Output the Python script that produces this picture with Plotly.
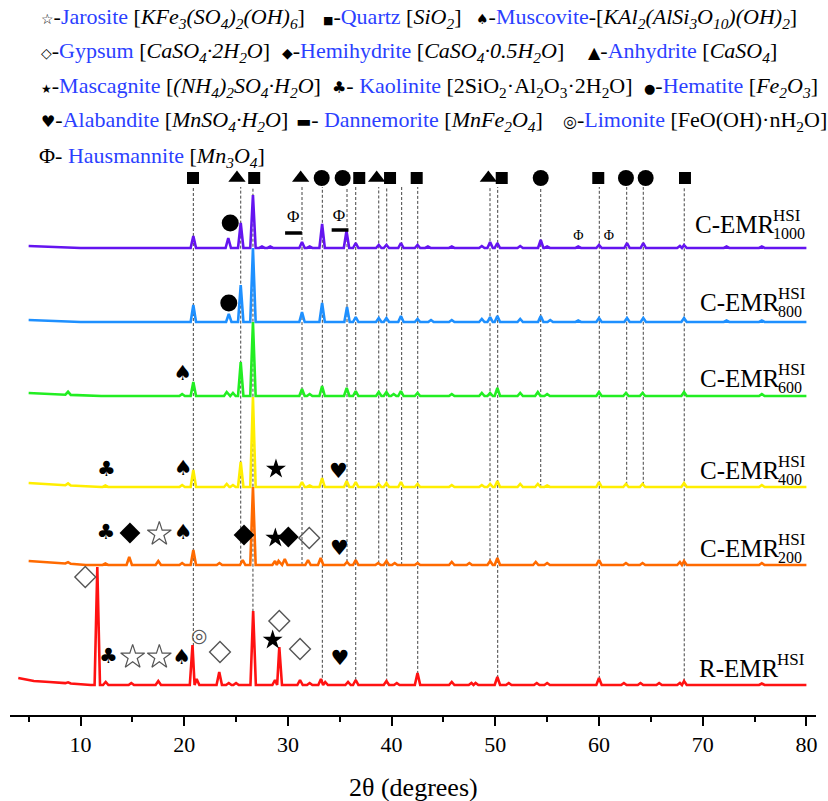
import numpy as np
import plotly.graph_objects as go

# ---------------- data ----------------
# peak positions (2-theta, degrees) and relative intensities (a.u.) per sample
pos_1000 = [20.88, 24.25, 25.45, 26.63, 27.5, 28.3, 31.36, 32.1, 33.3, 35.65, 36.54, 38.76, 39.5, 40.9, 42.5,
            43.5, 45.8, 48.7, 49.5, 50.2, 52.4, 54.38, 55.0, 58.0, 60.0, 62.7, 64.27, 67.8, 68.2, 72.3, 75.7]
int_1000 = [12, 10, 25, 53, 1.5, 1.5, 6, 1.5, 24, 17, 5, 3, 3, 5, 3,
            1.5, 1.5, 2, 6, 5, 2, 8, 1.5, 1.5, 3, 5, 5, 2, 3, 1.5, 1.5]

pos_800 = [20.88, 24.3, 25.45, 26.63, 31.36, 33.3, 35.7, 36.54, 38.76, 39.5, 40.9, 42.5, 43.8, 45.8,
           48.7, 49.5, 50.2, 52.4, 54.38, 55.3, 58.0, 60.0, 62.7, 64.27, 68.2, 72.3, 75.7]
int_800 = [17, 8, 37, 74, 10, 19, 15, 5, 4, 4, 6, 3, 2, 2,
           3, 5, 6, 3, 6, 2, 1.5, 4, 4, 4, 4, 1.5, 1.5]

pos_600 = [8.8, 19.8, 20.88, 24.1, 24.7, 25.45, 26.63, 31.36, 32.1, 33.3, 35.67, 36.54, 38.76, 39.5, 40.2,
           40.9, 42.5, 45.8, 48.7, 49.5, 50.2, 52.4, 54.1, 55.0, 60.0, 62.6, 64.2, 68.2, 75.7]
int_600 = [3, 2, 14, 4, 3, 34, 74, 7, 2, 10, 8, 5, 4, 4, 2,
           5, 3, 2, 3, 3, 8, 3, 4, 2, 4, 3, 3, 4, 2]

pos_400 = [8.8, 12.4, 19.8, 20.88, 24.1, 24.7, 25.45, 26.63, 31.36, 32.1, 33.3, 35.67, 36.54, 38.76, 39.5,
           40.9, 42.5, 45.8, 48.7, 49.5, 50.2, 52.4, 54.1, 55.0, 60.0, 62.6, 64.2, 68.2, 75.7]
int_400 = [2, 1.5, 2, 17, 3, 2, 25, 90, 5, 1.5, 9, 6, 5, 3, 4,
           5, 3, 2, 2, 3, 6, 3, 3, 1.5, 5, 3, 3, 4, 2]

pos_200 = [8.8, 12.4, 14.7, 17.5, 19.8, 20.88, 23.4, 25.64, 26.63, 28.76, 29.1, 29.7, 31.94, 33.16, 35.7,
           36.54, 38.7, 39.5, 40.3, 42.5, 45.8, 47.5, 49.5, 50.2, 53.9, 55.0, 60.0, 62.6, 64.2, 67.8, 68.2, 75.7]
int_200 = [1.5, 1.5, 8, 4, 2, 15, 2, 5, 78, 4, 4, 6, 5, 7, 3,
           5, 2, 4, 2, 2, 3, 2, 4, 7, 3, 2, 5, 2, 2, 3, 4, 2]

pos_raw = [8.8, 11.62, 12.43, 14.9, 17.5, 20.8, 21.2, 23.38, 24.3, 25.0, 26.65, 28.76, 29.17, 31.17, 32.1,
           33.19, 33.6, 35.8, 36.54, 39.5, 40.5, 42.5, 45.8, 47.7, 48.1, 50.2, 51.3, 54.0, 55.0, 60.0,
           62.4, 64.0, 65.8, 67.8, 68.2, 75.7]
int_raw = [1, 118, 3, 2, 4, 40, 6, 13, 2, 2, 74, 5, 38, 5, 2,
           6, 3, 3, 5, 4, 2, 12, 3, 2, 2, 8, 2, 2, 2, 7,
           2, 2, 2, 2, 4, 1.5]

# background (2-theta, a.u.) control points
bg_x_1000, bg_y_1000 = [5, 10, 80], [2, 0, 0]
bg_x_800, bg_y_800 = [5, 10, 80], [2, 0, 0]
bg_x_600, bg_y_600 = [5, 8, 12, 80], [3, 1.5, 0, 0]
bg_x_400, bg_y_400 = [5, 8, 12, 80], [4, 2, 0, 0]
bg_x_200, bg_y_200 = [5, 8, 10.5, 80], [4, 2, 0, 0]
bg_x_raw, bg_y_raw = [4, 5.5, 7, 9, 11, 80], [7, 4, 3, 1.5, 0, 0]

scan_start = [5, 5, 5, 5, 5, 4]
scan_end = 80

sample_names = ["C-EMR", "C-EMR", "C-EMR", "C-EMR", "C-EMR", "R-EMR"]
sample_sup = ["HSI"] * 6
sample_sub = ["1000", "800", "600", "400", "200", ""]

# reference phase lines (2-theta) and the pattern each one drops to
ref_lines = [20.88, 25.45, 26.63, 31.36, 33.32, 35.70, 36.54, 38.76, 39.53, 40.97, 42.52,
             49.49, 50.23, 54.38, 60.03, 62.67, 64.27, 68.22]
ref_line_to = [5, 4, 5, 4, 5, 4, 5, 4, 5, 4, 5, 4, 5, 3, 5, 3, 3, 5]

# phase markers on top row (2-theta)
top_quartz = [20.85, 26.75, 36.88, 39.85, 42.42, 50.62, 59.93, 68.29]
top_anhydrite = [25.09, 31.23, 38.56, 49.33]
top_hematite = [33.26, 35.28, 54.38, 62.60, 64.50]

# ---------------- layout helpers (pixel geometry) ----------------
W, H = 828, 801
AX_Y = 715              # pixel row of x axis
X_LEFT, X_RIGHT = 10, 816


def px2deg(px):
    return 10 + (px - 80.5) / 10.37


def py2y(py):
    return AX_Y - py


offsets = [py2y(248), py2y(322), py2y(396), py2y(487), py2y(565), py2y(685)]
colors = ["#6414F0", "#1E90FF", "#22EE22", "#FFEE00", "#FF6A00", "#FF1212"]

peaks = [(pos_1000, int_1000), (pos_800, int_800), (pos_600, int_600),
         (pos_400, int_400), (pos_200, int_200), (pos_raw, int_raw)]
bgs = [(bg_x_1000, bg_y_1000), (bg_x_800, bg_y_800), (bg_x_600, bg_y_600),
       (bg_x_400, bg_y_400), (bg_x_200, bg_y_200), (bg_x_raw, bg_y_raw)]


def build(pos, inten, bgx, bgy, x0, x1, hw=0.26):
    n = len(pos)
    segs = []
    for i, (p, h) in enumerate(zip(pos, inten)):
        lf, rf = p - hw, p + hw
        if i > 0:
            lf = max(lf, (pos[i - 1] + p) / 2)
        if i < n - 1:
            rf = min(rf, (p + pos[i + 1]) / 2)
        segs.append((lf, p, rf, h))
    pts = [(x0, 0.0), (x1, 0.0)]
    for bx in bgx:
        if x0 < bx < x1 and not any(s[0] <= bx <= s[2] for s in segs):
            pts.append((bx, 0.0))
    for lf, p, rf, h in segs:
        pts += [(lf, 0.0), (p, float(h)), (rf, 0.0)]
    pts.sort(key=lambda t: t[0])
    xs = np.array([t[0] for t in pts])
    ys = np.array([t[1] for t in pts]) + np.interp(xs, bgx, bgy)
    return xs, ys


fig = go.Figure()

curves = []
for k in range(6):
    xs, ys = build(peaks[k][0], peaks[k][1], bgs[k][0], bgs[k][1], scan_start[k], scan_end)
    curves.append((xs, ys + offsets[k]))

# dashed reference lines (drawn first, below patterns)
top_line = py2y(187)
lx, ly = [], []
for x, t in zip(ref_lines, ref_line_to):
    yb = float(np.interp(x, curves[t][0], curves[t][1]))
    lx += [x, x, None]
    ly += [yb, top_line, None]
fig.add_trace(go.Scatter(x=lx, y=ly, mode="lines", hoverinfo="skip",
                         line=dict(color="#444444", width=1, dash="3px,2px")))

for k in range(6):
    fig.add_trace(go.Scatter(x=curves[k][0], y=curves[k][1], mode="lines",
                             line=dict(color=colors[k], width=2.6), hoverinfo="skip"))

# top row markers
ytop = py2y(178)
fig.add_trace(go.Scatter(x=top_quartz, y=[ytop] * len(top_quartz), mode="markers",
                         marker=dict(symbol="square", size=12, color="black")))
fig.add_trace(go.Scatter(x=top_anhydrite, y=[ytop] * len(top_anhydrite), mode="markers",
                         marker=dict(symbol="triangle-up", size=15, color="black")))
fig.add_trace(go.Scatter(x=top_hematite, y=[ytop] * len(top_hematite), mode="markers",
                         marker=dict(symbol="circle", size=16, color="black")))

# markers at patterns (x in degrees, y in pixel rows)
circ = [(24.44, 223), (24.3, 303)]
star = [(28.85, 469), (28.79, 538), (28.53, 640)]
star_o = [(17.6, 534), (15.03, 657), (17.6, 657)]
dia = [(14.77, 533), (25.77, 535), (30.04, 537)]
dia_o = [(32.06, 538), (10.46, 577), (23.45, 652), (29.17, 621), (31.17, 649)]
bars = [(30.54, 233), (35.03, 230)]


def mk(lst, **m):
    fig.add_trace(go.Scatter(x=[a for a, b in lst], y=[py2y(b) for a, b in lst], mode="markers", marker=m))


mk(circ, symbol="circle", size=17, color="black")
mk(star, symbol="star", size=15, color="black")
mk(star_o, symbol="star-open", size=18, color="#555555", line=dict(width=1.2, color="#555555"))
mk(dia, symbol="diamond", size=16, color="black")
mk(dia_o, symbol="diamond-open", size=16, color="#555555", line=dict(width=1.4, color="#555555"))
mk(bars, symbol="line-ew", size=12, color="black", line=dict(width=3.5, color="black"))

spade = [(19.86, 375), (19.9, 470), (19.9, 534), (19.76, 659)]
club = [(12.5, 471), (12.46, 534), (12.68, 658)]
heart = [(34.86, 473), (34.96, 550), (35.02, 660)]
limon = [(21.46, 637)]
phi_big = [(30.52, 218), (34.93, 217)]
phi_small = [(58.0, 236), (60.96, 236)]


def tx(lst, s, size, color="black", family="DejaVu Sans"):
    fig.add_trace(go.Scatter(x=[a for a, b in lst], y=[py2y(b) for a, b in lst], mode="text",
                             text=[s] * len(lst), textposition="middle center",
                             textfont=dict(size=size, color=color, family=family)))


tx(spade, "♠", 21)
tx(club, "♣", 21)
tx(heart, "♥", 21)
tx(limon, "◎", 19, "#555555")
tx(phi_big, "Φ", 17, family="Liberation Serif")
tx(phi_small, "Φ", 14, family="Liberation Serif")

# ---------------- annotations ----------------
ann = []
SER = "Liberation Serif"
label_y = [224, 302, 378, 470, 548, 668]
label_x = [776, 781, 781, 781, 781, 780]
for k in range(6):
    ann.append(dict(x=px2deg(label_x[k]), y=py2y(label_y[k]), text=sample_names[k], xanchor="right",
                    yanchor="middle", showarrow=False, borderpad=0,
                    font=dict(family=SER, size=25, color="black")))
    ann.append(dict(x=px2deg(label_x[k] - 4), y=py2y(label_y[k] - 9), text=sample_sup[k], xanchor="left",
                    yanchor="middle", showarrow=False, borderpad=0,
                    font=dict(family=SER, size=17, color="black")))
    if sample_sub[k]:
        ann.append(dict(x=px2deg(label_x[k] - 4), y=py2y(label_y[k] + 9), text=sample_sub[k], xanchor="left",
                        yanchor="middle", showarrow=False, borderpad=0,
                        font=dict(family=SER, size=16, color="black")))

BLUE = "#2B3FFF"


def nm(s):
    return f'<span style="color:{BLUE}">{s}</span>'


def sy(s, size=14):
    return f'<span style="font-size:{size}px;font-family:DejaVu Sans">{s}</span>'


legend_items = [
    (40, 18, sy("☆") + "-" + nm("Jarosite") + " [<i>KFe<sub>3</sub>(SO<sub>4</sub>)<sub>2</sub>(OH)<sub>6</sub></i>]"),
    (322, 18, sy("■", 11) + "-" + nm("Quartz") + " [<i>SiO<sub>2</sub></i>]"),
    (475, 18, sy("♠") + "-" + nm("Muscovite") + "-[<i>KAl<sub>2</sub>(AlSi<sub>3</sub>O<sub>10</sub>)(OH)<sub>2</sub></i>]"),
    (40, 52, sy("◇") + "-" + nm("Gypsum") + " [<i>CaSO<sub>4</sub>·2H<sub>2</sub>O</i>]"),
    (281, 52, sy("◆") + "-" + nm("Hemihydrite") + " [<i>CaSO<sub>4</sub>·0.5H<sub>2</sub>O</i>]"),
    (587, 52, sy("▲", 16) + "-" + nm("Anhydrite") + " [<i>CaSO<sub>4</sub></i>]"),
    (40, 87, sy("★", 12) + "-" + nm("Mascagnite") + " [<i>(NH<sub>4</sub>)<sub>2</sub>SO<sub>4</sub>·H<sub>2</sub>O</i>]"),
    (331, 87, sy("♣", 16) + "- " + nm("Kaolinite") + " [2SiO<sub>2</sub>·Al<sub>2</sub>O<sub>3</sub>·2H<sub>2</sub>O]"),
    (643, 87, sy("●", 13) + "-" + nm("Hematite") + " [<i>Fe<sub>2</sub>O<sub>3</sub></i>]"),
    (40, 121, sy("♥", 16) + "-" + nm("Alabandite") + " [<i>MnSO<sub>4</sub>·H<sub>2</sub>O</i>]"),
    (295, 121, sy("▬", 16) + "- " + nm("Dannemorite") + " [<i>MnFe<sub>2</sub>O<sub>4</sub></i>]"),
    (562, 121, sy("◎", 16) + "-" + nm("Limonite") + " [FeO(OH)·nH<sub>2</sub>O]"),
    (38, 157, "Φ- " + nm("Hausmannite") + " [<i>Mn<sub>3</sub>O<sub>4</sub></i>]"),
]
for px, py, t in legend_items:
    ann.append(dict(x=px2deg(px), y=py2y(py), text=t, xanchor="left", yanchor="middle", showarrow=False,
                    borderpad=0, font=dict(family=SER, size=22, color="black")))

ann.append(dict(x=0.5, xref="paper", yref="paper", y=(AX_Y - 787) / AX_Y, text="2θ (degrees)",
                xanchor="center", yanchor="middle", showarrow=False,
                font=dict(family=SER, size=26, color="black")))

fig.update_layout(
    width=W, height=H,
    margin=dict(l=X_LEFT, r=W - X_RIGHT, t=0, b=H - AX_Y, pad=0),
    paper_bgcolor="white", plot_bgcolor="white",
    showlegend=False,
    annotations=ann,
    xaxis=dict(range=[px2deg(X_LEFT), px2deg(X_RIGHT)], showgrid=False, zeroline=False,
               showline=True, linecolor="black", linewidth=2,
               ticks="outside", ticklen=9, tickwidth=2, tickcolor="black",
               tick0=0, dtick=10,
               minor=dict(ticks="outside", dtick=5, tick0=0, ticklen=5, tickwidth=2, tickcolor="black"),
               tickfont=dict(family=SER, size=22, color="black")),
    yaxis=dict(range=[0, AX_Y], visible=False, showgrid=False, zeroline=False),
)
fig.write_html("out.html")
